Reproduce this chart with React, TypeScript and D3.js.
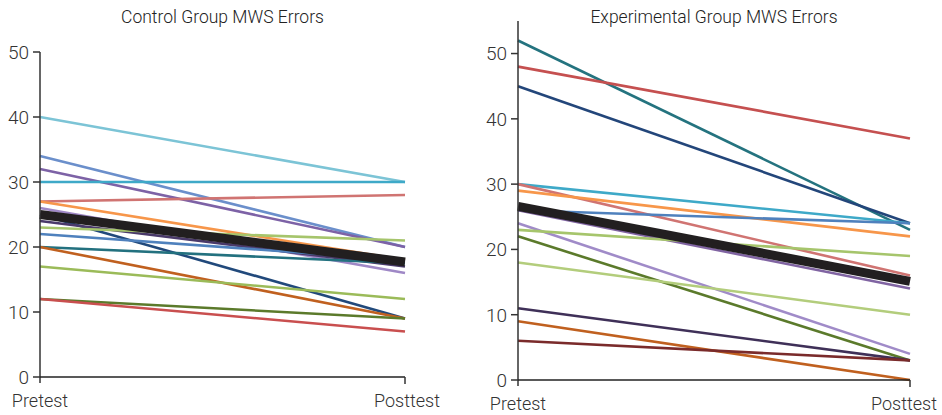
import React from 'react';
import * as d3 from 'd3';

const stages = ['Pretest', 'Posttest'];
const yTicks = [0, 10, 20, 30, 40, 50];

// control group, one entry per student
const controlPre = [40, 34, 32, 30, 27, 27, 26, 25, 24, 23, 22, 20, 20, 17, 12, 12];
const controlPost = [30, 20, 20, 30, 28, 18, 16, 9, 17, 21, 18, 17.5, 9, 12, 9, 7];
const controlColors = [
  '#7cc4d6', '#6b8fcb', '#7d62a6', '#3ea9c8', '#d07472', '#f7964a', '#9f88c6', '#21497b',
  '#4a3a6a', '#a6c56c', '#4f81bd', '#23717f', '#c0601f', '#9bbb59', '#5b7a2b', '#c94f4f',
];
const controlMean = [25, 17.7];

// experimental group
const expPre = [52, 48, 45, 30, 30, 29, 26, 26, 24, 23, 22, 18, 11, 9, 6];
const expPost = [23, 37, 24, 24, 16, 22, 24, 14, 4, 19, 3, 10, 3, 0, 3];
const expColors = [
  '#24737f', '#c55050', '#23467a', '#3ea9c8', '#d07472', '#f7964a', '#4f81bd', '#8064a2',
  '#a08bc8', '#a6c56c', '#5b7a2b', '#b3cd7c', '#3f3058', '#c0601f', '#7a2b2b',
];
const expMean = [26.6, 15.1];

const font = 'Roboto, "Liberation Sans", sans-serif';

type PanelProps = {
  title: string;
  pre: number[];
  post: number[];
  colors: string[];
  mean: number[];
  x0: number;
  x1: number;
  yMax: number;
  yBottom: number;
  yTop: number;
  postLabelShift: number;
};

const Panel = ({ title, pre, post, colors, mean, x0, x1, yMax, yBottom, yTop, postLabelShift }: PanelProps) => {
  const x = d3.scalePoint<string>().domain(stages).range([x0, x1]);
  const y = d3.scaleLinear().domain([0, yMax]).range([yBottom, yTop]);
  const line = d3
    .line<number>()
    .x((_, i) => x(stages[i]) as number)
    .y((d) => y(d));

  return (
    <g>
      <text x={(x0 + x1) / 2} y={23} textAnchor="middle" fontSize={17.5} fontWeight={300} fill="#222" fontFamily={font}>
        {title}
      </text>

      {pre.map((p, i) => (
        <path key={i} d={line([p, post[i]]) || ''} fill="none" stroke={colors[i]} strokeWidth={2.6} />
      ))}
      <path d={line(mean) || ''} fill="none" stroke="#221f20" strokeWidth={9} />

      {/* y axis */}
      <line x1={x0} x2={x0} y1={y(yMax)} y2={yBottom + 6} stroke="#333" strokeWidth={1.5} />
      {yTicks.map((t) => (
        <g key={t}>
          <line x1={x0 - 7} x2={x0} y1={y(t)} y2={y(t)} stroke="#333" strokeWidth={1.5} />
          <text x={x0 - 11} y={y(t)} dy="0.36em" textAnchor="end" fontSize={19} fontWeight={300} fill="#333" fontFamily={font}>
            {t}
          </text>
        </g>
      ))}

      {/* x axis */}
      <line x1={x0} x2={x1} y1={yBottom} y2={yBottom} stroke="#222" strokeWidth={1.5} />
      <line x1={x1} x2={x1} y1={yBottom} y2={yBottom + 7} stroke="#333" strokeWidth={1.5} />
      {stages.map((s, i) => (
        <text
          key={s}
          x={(x(s) as number) + (i === 1 ? postLabelShift : 0)}
          y={yBottom + 30}
          textAnchor="middle"
          fontSize={18}
          fontWeight={300}
          fill="#333"
          fontFamily={font}
        >
          {s}
        </text>
      ))}
    </g>
  );
};

export default function App() {
  return (
    <svg width={942} height={415} style={{ position: 'absolute', left: 0, top: 0, background: '#fff' }}>
      <Panel
        title="Control Group MWS Errors"
        pre={controlPre}
        post={controlPost}
        colors={controlColors}
        mean={controlMean}
        x0={40}
        x1={405}
        yMax={50}
        yBottom={377}
        yTop={52}
        postLabelShift={2}
      />
      <Panel
        title="Experimental Group MWS Errors"
        pre={expPre}
        post={expPost}
        colors={expColors}
        mean={expMean}
        x0={518}
        x1={910}
        yMax={55}
        yBottom={380}
        yTop={20.9}
        postLabelShift={-6}
      />
    </svg>
  );
}
